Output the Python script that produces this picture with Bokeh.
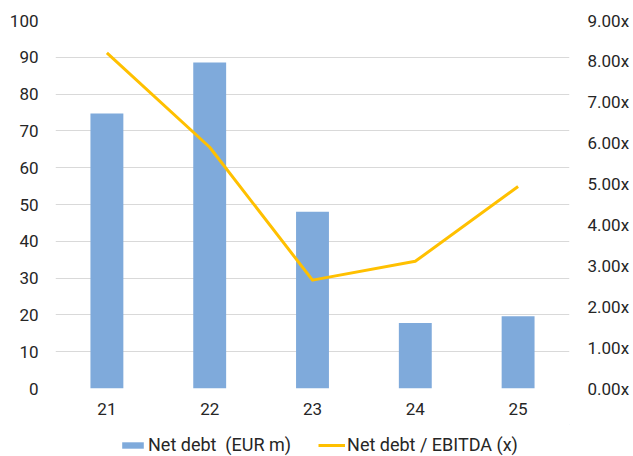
from bokeh.plotting import figure
from bokeh.layouts import column
from bokeh.models import (Range1d, LinearAxis, FixedTicker, PrintfTickFormatter,
                          Legend, LegendItem, FactorRange)
from bokeh.embed import file_html
from bokeh.resources import INLINE

# Fiscal years (two-digit labels)
years = ["21", "22", "23", "24", "25"]
# Net debt in EUR m
net_debt = [74.7, 88.6, 48.0, 17.8, 19.6]
# Net debt / EBITDA multiple
leverage = [8.21, 5.90, 2.65, 3.11, 4.94]

left_ticks = [0, 10, 20, 30, 40, 50, 60, 70, 80, 90, 100]
right_ticks = [0, 1, 2, 3, 4, 5, 6, 7, 8, 9]

FONT = "Roboto"
TEXT = "#262626"
GRID = "#D9D9D9"
BAR = "#7FAADB"
LINE = "#FFC000"

p = figure(width=633, height=424, x_range=FactorRange(*years),
           y_range=Range1d(0, 100), output_backend="svg", toolbar_location=None,
           min_border_left=55, min_border_right=64, min_border_top=20,
           min_border_bottom=36)
p.extra_y_ranges = {"mult": Range1d(0, 9)}
p.outline_line_color = None
p.background_fill_color = "white"
p.border_fill_color = "white"

p.vbar(x=years, top=net_debt, width=0.32, color=BAR, line_color=None)
p.line(x=years, y=leverage, y_range_name="mult", color=LINE,
       line_width=3, line_join="round")

# left axis
la = p.yaxis[0]
la.ticker = FixedTicker(ticks=left_ticks)
# right axis
ra = LinearAxis(y_range_name="mult", ticker=FixedTicker(ticks=right_ticks),
                formatter=PrintfTickFormatter(format="%.2fx"))
p.add_layout(ra, "right")

for ax in [la, ra, p.xaxis[0]]:
    ax.axis_line_color = None
    ax.major_tick_line_color = None
    ax.minor_tick_line_color = None
    ax.major_tick_in = 0
    ax.major_tick_out = 0
    ax.minor_tick_out = 0
    ax.major_label_text_font = FONT
    ax.major_label_text_font_size = "17px"
    ax.major_label_text_color = TEXT
la.major_label_standoff = 17
ra.major_label_standoff = 18
p.xaxis[0].major_label_standoff = 14

p.xgrid.grid_line_color = None
p.ygrid.grid_line_color = GRID
p.ygrid.grid_line_width = 1
p.ygrid.ticker = FixedTicker(ticks=left_ticks)

# legend strip underneath the chart; its key glyphs sit outside the visible range
lg = figure(width=633, height=32, x_range=Range1d(0, 1), y_range=Range1d(0, 1),
            output_backend="svg", toolbar_location=None,
            min_border_left=55, min_border_right=64, min_border_top=0,
            min_border_bottom=0)
lg.axis.visible = False
lg.grid.visible = False
lg.outline_line_color = None
key_bar = lg.vbar(x=[5], top=[5], bottom=[4], width=0.5, color=BAR, line_color=None)
key_line = lg.line(x=[5, 6], y=[5, 5], color=LINE, line_width=3)

legend = Legend(items=[LegendItem(label="Net debt  (EUR m)", renderers=[key_bar]),
                       LegendItem(label="Net debt / EBITDA (x)", renderers=[key_line])],
                orientation="horizontal", location=(64, 1),
                glyph_width=27, glyph_height=8, label_standoff=2, spacing=27,
                padding=0, margin=0, border_line_color=None,
                background_fill_alpha=0,
                label_text_font=FONT, label_text_font_size="18px",
                label_text_color=TEXT)
lg.add_layout(legend, "center")

open("out.html", "w").write(file_html(column(p, lg, spacing=0), INLINE))
